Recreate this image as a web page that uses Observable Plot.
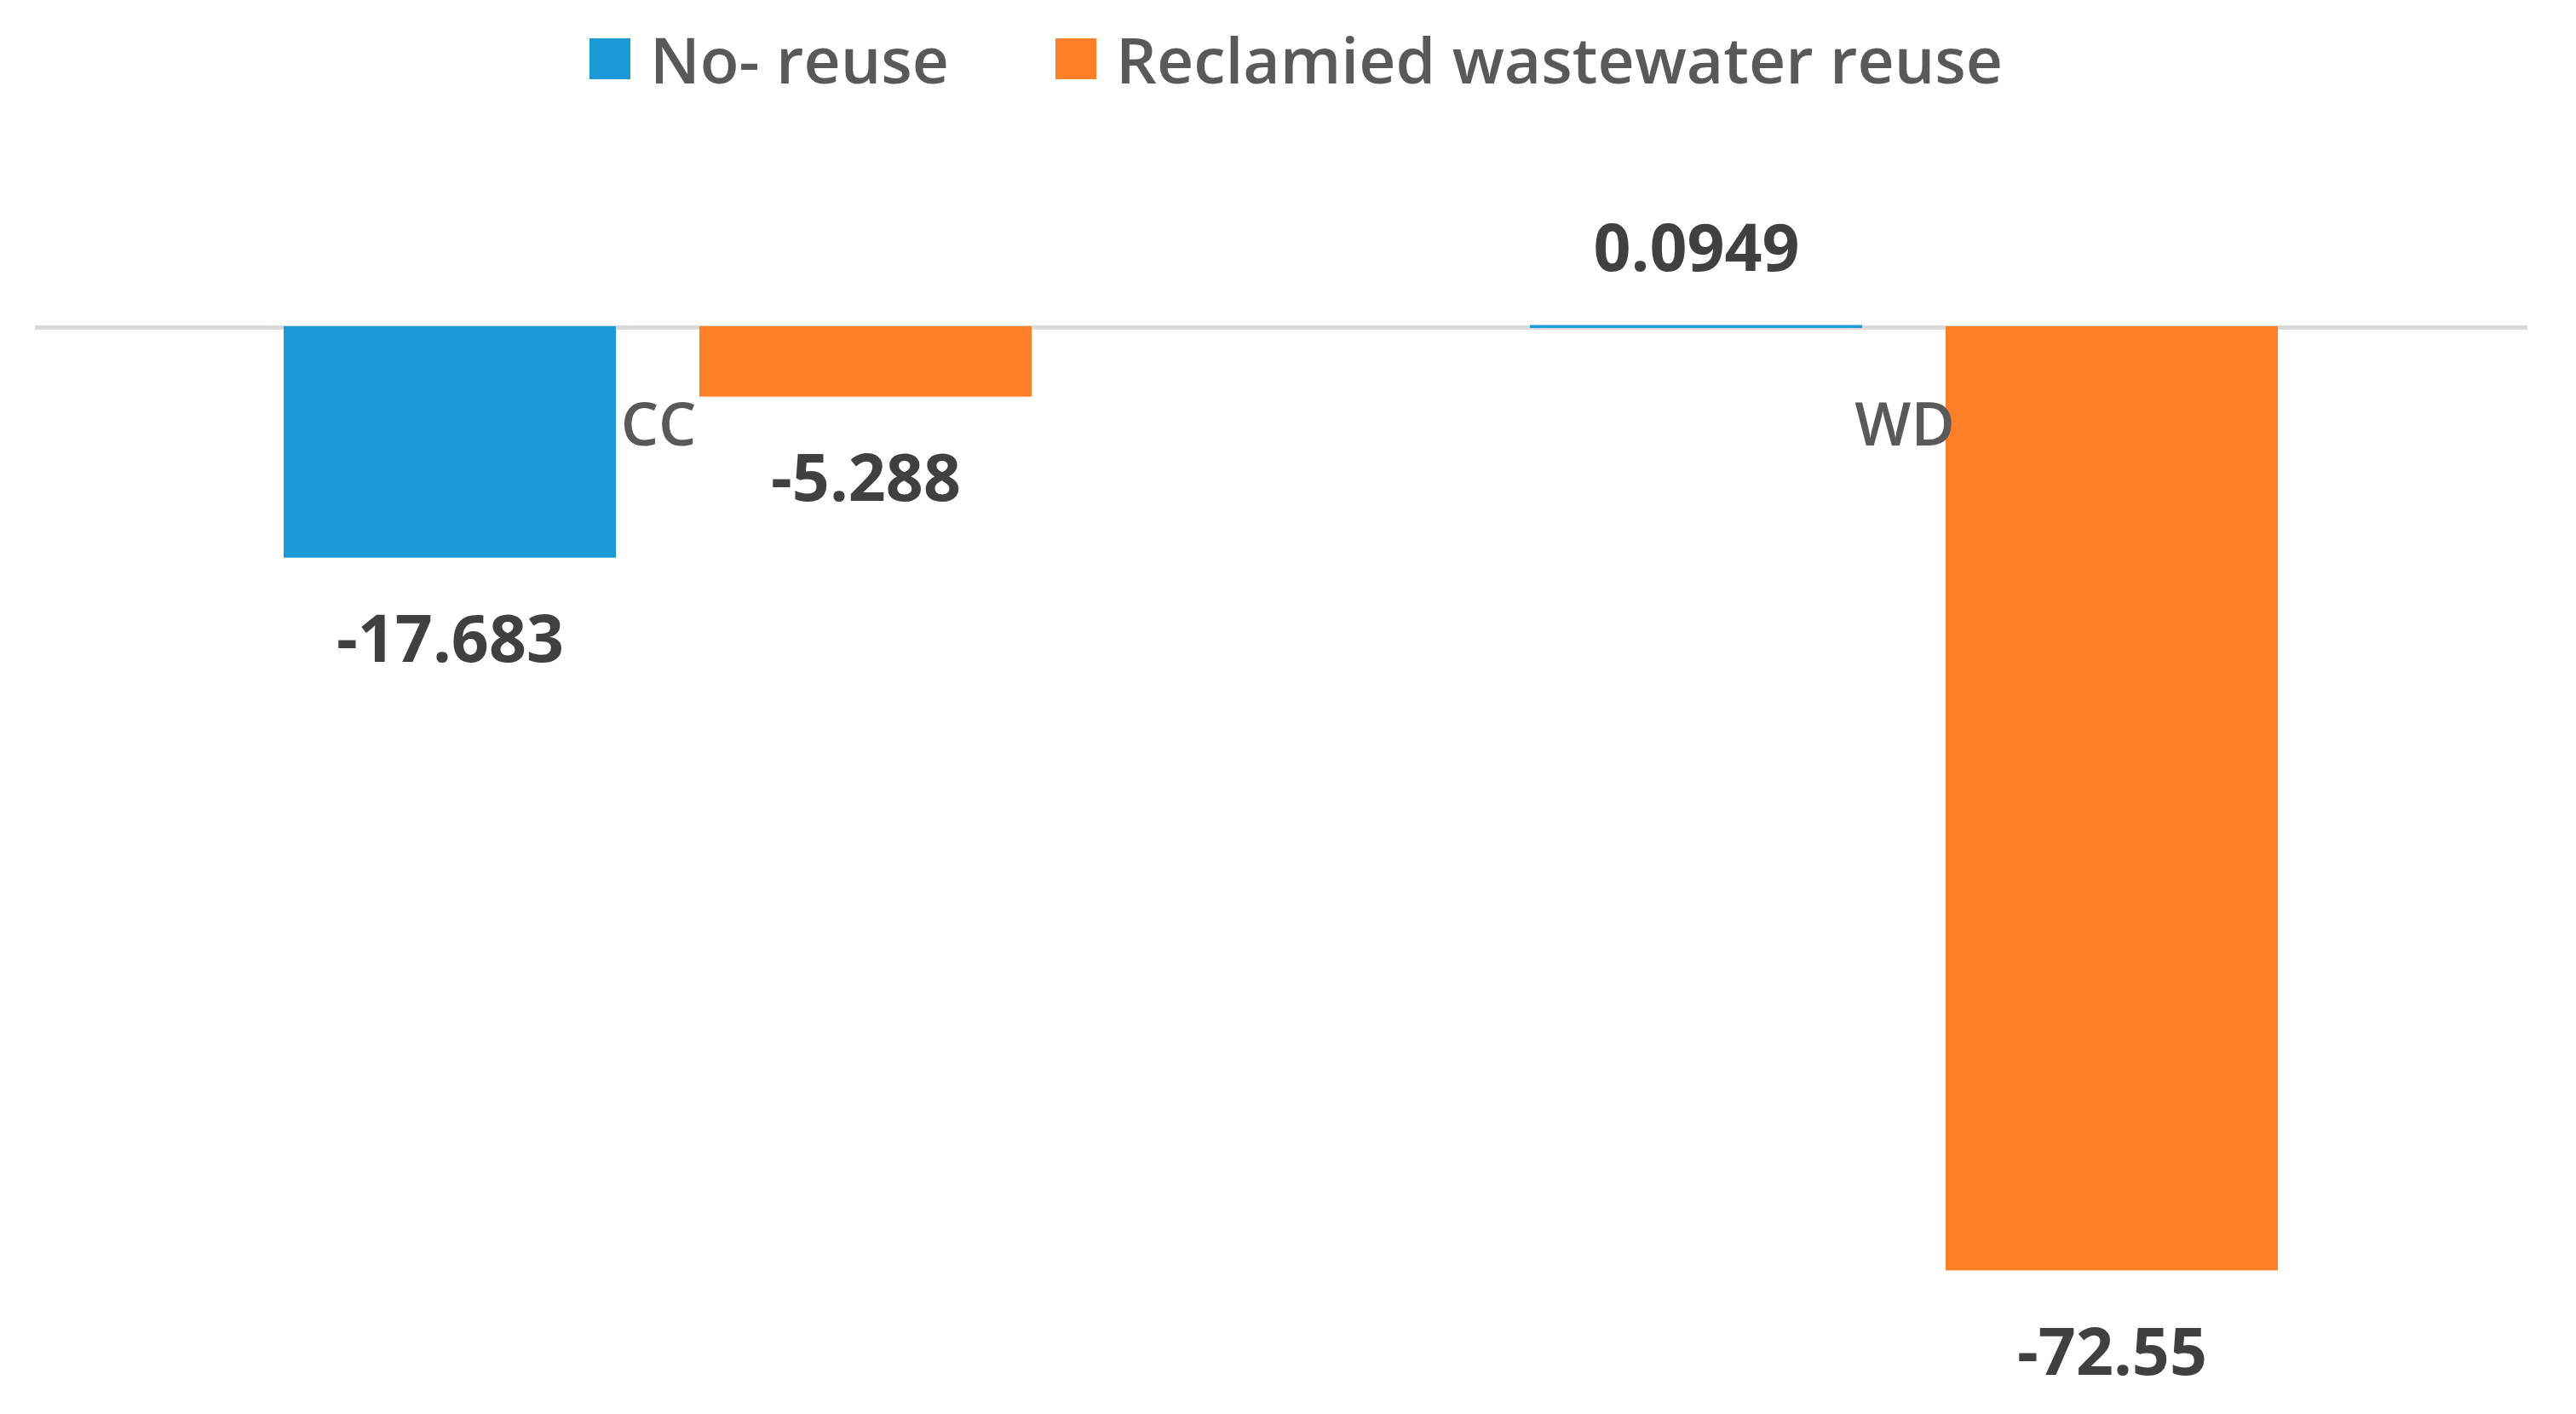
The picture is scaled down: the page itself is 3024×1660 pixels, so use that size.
<!DOCTYPE html>
<html>
<head>
<meta charset="utf-8">
<script src="https://cdn.jsdelivr.net/npm/d3@7"></script>
<script src="https://cdn.jsdelivr.net/npm/@observablehq/plot@0.6"></script>
<style>
  html, body { margin: 0; padding: 0; background: #fff; }
  body { width: 3024px; height: 1660px; overflow: hidden; font-family: "Open Sans", sans-serif; }
  #legend { box-sizing: border-box; height: 130px; padding-top: 8px; display: flex; align-items: center; justify-content: center; padding-left: 19px; }
  .item { display: flex; align-items: center; font-size: 75px; font-weight: 600; color: #595959; }
  .sw { width: 48px; height: 48px; margin-right: 23px; }
  .item + .item { margin-left: 125px; }
</style>
</head>
<body>
<div id="legend"></div>
<div id="chart"></div>
<script>
const categories = ["CC", "WD"];
const series = ["No- reuse", "Reclamied wastewater reuse"];
const noReuse = [-17.683, 0.0949];
const reclaimed = [-5.288, -72.55];
const colors = ["#1a9ad6", "#fe7f27"];

const data = categories.flatMap((c, i) => [
  {cat: c, series: series[0], value: noReuse[i]},
  {cat: c, series: series[1], value: reclaimed[i]}
]);

const legend = document.getElementById("legend");
series.forEach((s, i) => {
  const it = document.createElement("div");
  it.className = "item";
  const sw = document.createElement("div");
  sw.className = "sw";
  sw.style.background = colors[i];
  const t = document.createElement("span");
  t.textContent = s;
  it.append(sw, t);
  legend.append(it);
});

const chart = Plot.plot({
  width: 3024,
  height: 1530,
  marginTop: 101.5,
  marginBottom: 56,
  marginLeft: 40,
  marginRight: 57,
  style: {fontFamily: "Open Sans, sans-serif", background: "#fff"},
  fx: {domain: categories, padding: 0, axis: null},
  x: {domain: series, paddingInner: 0.204, paddingOuter: 0.598, axis: null},
  y: {domain: [-80, 10], axis: null},
  color: {domain: series, range: colors},
  marks: [
    Plot.ruleY([0], {stroke: "#d9d9d9", strokeWidth: 5}),
    Plot.barY(data, {fx: "cat", x: "series", y: "value", fill: "series", stroke: "series", strokeWidth: 2}),
    Plot.text(data.filter(d => d.value < 0), {
      fx: "cat", x: "series", y: "value", text: d => String(d.value),
      lineAnchor: "bottom", dy: 123, fontSize: 77, fontWeight: 700, fill: "#404040",
      letterSpacing: 2
    }),
    Plot.text(data.filter(d => d.value >= 0), {
      fx: "cat", x: "series", y: "value", text: d => String(d.value),
      lineAnchor: "bottom", dy: -65, fontSize: 77, fontWeight: 700, fill: "#404040",
      letterSpacing: 2
    }),
    Plot.text(categories, {
      fx: d => d, y: () => 0, text: d => d,
      lineAnchor: "bottom", dy: 138, fontSize: 70, fontWeight: 600, fill: "#595959"
    })
  ]
});
chart.querySelectorAll("text").forEach(t => {
  if (t.getAttribute("letter-spacing") == null && t.closest("g[letter-spacing]") == null) {}
});
document.getElementById("chart").append(chart);
</script>
</body>
</html>
